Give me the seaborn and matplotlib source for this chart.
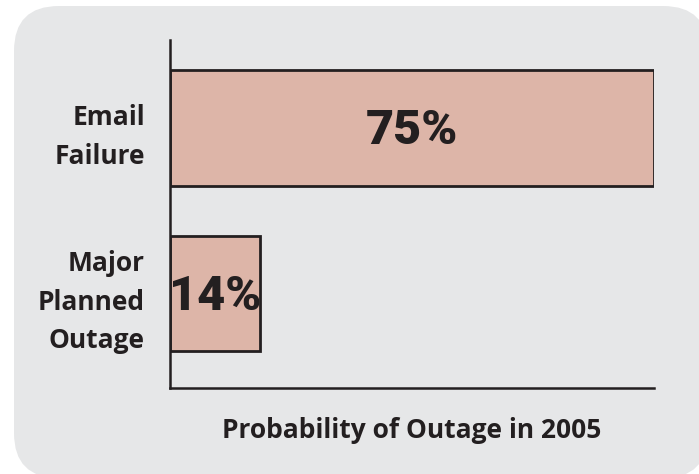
import matplotlib
matplotlib.use("Agg")
import matplotlib.pyplot as plt
import seaborn as sns
import pandas as pd
from matplotlib.patches import FancyBboxPatch

categories = ["Email\nFailure", "Major\nPlanned\nOutage"]
values = [75, 14]
value_labels = ["75%", "14%"]
x_label = "Probability of Outage in 2005"

df = pd.DataFrame({"category": categories, "value": values})

sns.set_theme(style="white")
plt.rcParams['font.family'] = ['Open Sans', 'DejaVu Sans']
plt.rcParams['font.weight'] = 'bold'

BG = '#e6e7e8'
BAR = '#ddb5a8'
EDGE = '#231f20'

fig = plt.figure(figsize=(6.99, 4.74), dpi=100)
fig.patch.set_facecolor('white')
bg = FancyBboxPatch((0.14, -0.04), 6.94, 4.72, boxstyle="round,pad=0,rounding_size=0.45",
                    transform=fig.dpi_scale_trans, facecolor=BG, edgecolor='none', zorder=-10)
fig.add_artist(bg)

ax = fig.add_axes([170/699, 1-388/474, (654-170)/699, (388-40)/474])
ax.set_facecolor('none')
ax.set_zorder(5)

sns.barplot(data=df, x="value", y="category", orient="h", color=BAR, saturation=1,
            edgecolor=EDGE, linewidth=2.0, width=0.70, ax=ax)

ax.set_xlim(0, 75)
ax.set_ylim(1.571, -0.532)

for s in ['top', 'right']:
    ax.spines[s].set_visible(False)
for s in ['left', 'bottom']:
    ax.spines[s].set_color(EDGE)
    ax.spines[s].set_linewidth(1.8)

ax.set_xticks([])
ax.tick_params(axis='y', length=0, pad=18, labelsize=19, labelcolor=EDGE)
ax.set_yticks(range(len(categories)))
ax.set_yticklabels(categories, fontsize=19, fontweight='bold', color=EDGE,
                   linespacing=1.55, ha='right')

ax.set_ylabel("")
ax.set_xlabel(x_label, fontsize=19, fontweight='bold', color=EDGE, labelpad=21)

for i, (v, lab) in enumerate(zip(values, value_labels)):
    ax.text(v / 2, i + 0.02, lab, ha='center', va='center', fontsize=35, fontweight='heavy',
            color=EDGE, family=['Roboto', 'DejaVu Sans'])

fig.savefig("out.png", dpi=100, facecolor='white')
